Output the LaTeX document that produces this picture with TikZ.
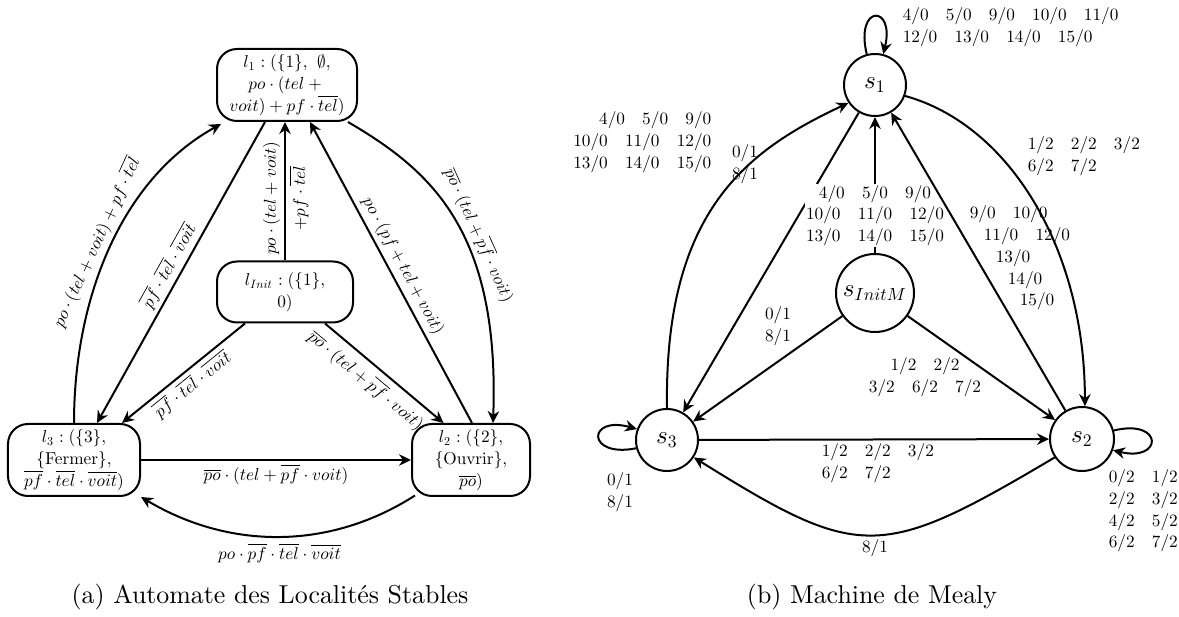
\documentclass[tikz,border=0pt]{standalone}
\usetikzlibrary{arrows.meta}
\DeclareFontShape{OT1}{cmr}{m}{n}{<->cmr10}{}
\DeclareFontShape{OML}{cmm}{m}{it}{<->cmmi10}{}
\DeclareFontShape{OMS}{cmsy}{m}{n}{<->cmsy10}{}
\DeclareFontShape{OMX}{cmex}{m}{n}{<->cmex10}{}
\newcommand\lf{\fontsize{6.9}{8.7}\selectfont}
\begin{document}
\begin{tikzpicture}[x=0.4pt,y=-0.4pt,line width=0.8pt]
\tikzset{
 arr/.style={-{Stealth[length=4.8pt,width=4.6pt,inset=1.6pt]}},
 lnode/.style={draw,rounded corners=8pt,align=center,font=\lf,inner sep=1pt},
 snode/.style={draw,circle,inner sep=0pt,font=\fontsize{10.05}{12}\selectfont},
 lab/.style={font=\lf,inner sep=1.5pt},
 captext/.style={font=\fontsize{10.35}{12}\selectfont},
}
\useasboundingbox (0,0) rectangle (1179,617);
% ---------- left: automate
\node[lnode,minimum width=56pt,minimum height=28.8pt] (l1) at (287,85)
  {$l_1 : (\{1\},\ \emptyset,$\\ $po\cdot(tel +{}$\\ $voit) + pf\cdot\overline{tel})$};
\node[lnode,minimum width=54.4pt,minimum height=24.4pt] (li) at (285,292)
  {$l_{Init} : (\{1\},$\\ $0)$};
\node[lnode,minimum width=52.8pt,minimum height=28.8pt] (l3) at (74,460)
  {$l_3 : (\{3\},$\\ $\{\mathrm{Fermer}\},$\\ $\overline{pf}\cdot\overline{tel}\cdot\overline{voit})$};
\node[lnode,minimum width=47.2pt,minimum height=28.8pt] (l2) at (471,460)
  {$l_2 : (\{2\},$\\ $\{\mathrm{Ouvrir}\},$\\ $\overline{po})$};

\draw[arr] (l3.north) .. controls (74,300) and (120,180) .. ([xshift=2pt,yshift=-0.8pt]l1.south west)
  node[lab,sloped,above,pos=0.5] {$po\cdot(tel+voit)+pf\cdot\overline{tel}$};
\draw[arr] ([xshift=-8.8pt]l1.south) -- ([xshift=9.2pt]l3.north)
  node[lab,sloped,above,pos=0.5] {$\overline{pf}\cdot\overline{tel}\cdot\overline{voit}$};
\draw[arr] (li.north) -- (li.north |- l1.south)
  node[lab,sloped,above,pos=0.45] {$po\cdot(tel+voit)$}
  node[lab,sloped,below,pos=0.45] {$+pf\cdot\overline{tel}$};
\draw[arr] ([xshift=-16pt]li.south) -- ([xshift=19.2pt]l3.north)
  node[lab,sloped,below,pos=0.5] {$\overline{pf}\cdot\overline{tel}\cdot\overline{voit}$};
\draw[arr] ([xshift=16pt]li.south) -- ([xshift=-11pt]l2.north)
  node[lab,sloped,below,pos=0.44,inner sep=2.5pt] {$\overline{po}\cdot(tel+\overline{pf}\cdot voit)$};
\draw[arr] ([xshift=0.4pt]l2.north) -- ([xshift=9.2pt]l1.south)
  node[lab,sloped,above,pos=0.5] {$po\cdot(pf+tel+voit)$};
\draw[arr] ([xshift=-4pt]l1.south east) .. controls (430,170) and (500,230) .. ([xshift=8.8pt]l2.north)
  node[lab,sloped,above,pos=0.58] {$\overline{po}\cdot(tel+\overline{pf}\cdot voit)$};
\draw[arr] (l3) -- (l2)
  node[lab,below,midway] {$\overline{po}\cdot(tel+\overline{pf}\cdot voit)$};
\draw[arr] ([xshift=1.6pt,yshift=0.6pt]l2.south west) .. controls (330,550) and (230,550) .. (l3.south east)
  node[lab,below,pos=0.5,yshift=-1pt] {$po\cdot\overline{pf}\cdot\overline{tel}\cdot\overline{voit}$};
\node[captext] (ca) at (270,597) {(a) Automate des Localités Stables};

% ---------- right: Mealy
\node[snode,minimum size=24.8pt] (s1) at (875,85) {$s_1$};
\node[snode,minimum size=31.2pt] (si) at (875,293) {$s_{InitM}$};
\node[snode,minimum size=24.8pt] (s3) at (667,440) {$s_3$};
\node[snode,minimum size=25.6pt] (s2) at (1082,439) {$s_2$};

\draw[arr] (s1.105) .. controls +(-12,-50) and +(12,-50) .. (s1.75);
\node[lab,anchor=west,align=left] (t1) at (898,27)
  {$4/0\quad 5/0\quad 9/0\quad 10/0\quad 11/0$\\ $12/0\quad 13/0\quad 14/0\quad 15/0$};

\draw[arr] (s3.north) .. controls (664,210) and (748,150) .. (s1.214);
\node[lab,anchor=east,align=right] (t2) at (716,142)
  {$4/0\quad 5/0\quad 9/0$\\ $10/0\quad 11/0\quad 12/0$\\ $13/0\quad 14/0\quad 15/0$};

\draw[arr] (s1) -- (s3);
\node[lab,align=center] (t3) at (745,164) {$0/1$\\ $8/1$};

\draw[arr] (si) -- (s1)
  node[lab,pos=0.275,fill=white,align=center,inner sep=0.5pt]
  {$4/0\quad 5/0\quad 9/0$\\ $10/0\quad 11/0\quad 12/0$\\ $13/0\quad 14/0\quad 15/0$};

\draw[arr] (s2) -- (s1);
\node[lab,anchor=west,align=left] (t4) at (965,258)
  {$9/0\quad 10/0$\\ \hspace*{5.6pt}$11/0\quad 12/0$\\ \hspace*{10.4pt}$13/0$\\ \hspace*{15.2pt}$14/0$\\ \hspace*{20pt}$15/0$};

\draw[arr] (s1.-20) .. controls (1010,125) and (1085,250) .. (s2.85);
\node[lab,anchor=west,align=left] (t5) at (1023,156)
  {$1/2\quad 2/2\quad 3/2$\\ $6/2\quad 7/2$};

\draw[arr] (si) -- (s3);
\node[lab,align=center] (t6) at (778,326) {$0/1$\\ $8/1$};

\draw[arr] (si) -- (s2);
\node[lab,align=center] (t7) at (925,377) {$1/2\quad 2/2$\\ $3/2\quad 6/2\quad 7/2$};

\draw[arr] (s3) -- (s2);
\node[lab,anchor=west,align=left] (t8) at (817,463) {$1/2\quad 2/2\quad 3/2$\\ $6/2\quad 7/2$};

\draw[arr] (s2.214) .. controls (880,561) and (860,561) .. (s3.-33);
\node[lab] (t9) at (875,548) {$8/1$};

\draw[arr] (s3.195) .. controls +(-50,10) and +(-50,-14) .. (s3.160);
\node[lab,align=center] (t10) at (620,492) {$0/1$\\ $8/1$};

\draw[arr] (s2.15) .. controls +(50,-12) and +(50,12) .. (s2.-20);
\node[lab,anchor=west,align=left] (t11) at (1104,511)
  {$0/2\quad 1/2$\\ $2/2\quad 3/2$\\ $4/2\quad 5/2$\\ $6/2\quad 7/2$};

\node[captext] (cb) at (872,597) {(b) Machine de Mealy};
\end{tikzpicture}
\end{document}
